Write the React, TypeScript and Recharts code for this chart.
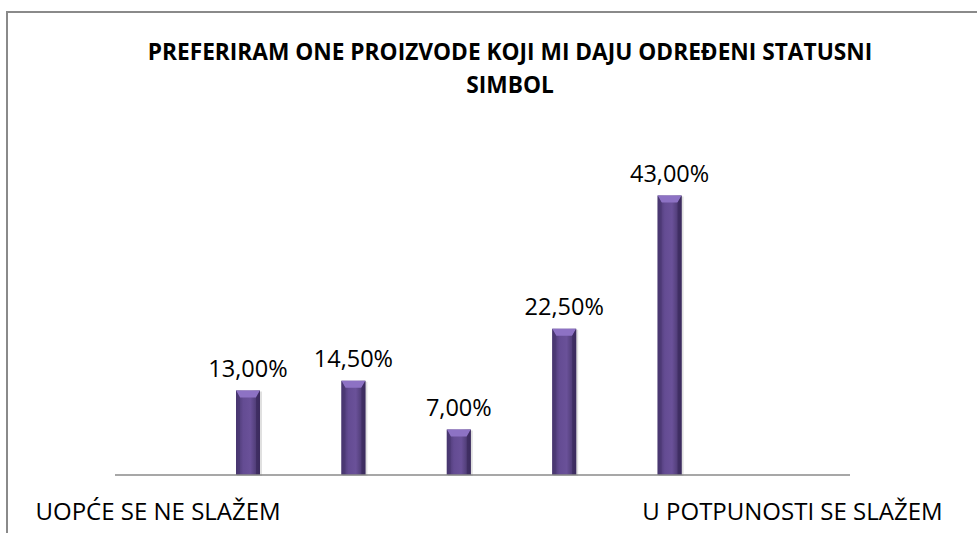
import React from "react";
import { BarChart, Bar, XAxis, YAxis, LabelList } from "recharts";

const categories = [
  "UOPĆE SE NE SLAŽEM",
  "2",
  "3",
  "4",
  "U POTPUNOSTI SE SLAŽEM",
];
const values = [13.0, 14.5, 7.0, 22.5, 43.0];
const titleLines = [
  "PREFERIRAM ONE PROIZVODE KOJI MI DAJU ODREĐENI STATUSNI",
  "SIMBOL",
];

const data = categories.map((name, i) => ({ name, value: values[i] }));

const FONT = "'Open Sans', sans-serif";

const fmt = (v: number) => v.toFixed(2).replace(".", ",") + "%";

function PurpleBar(props: any) {
  const { x, y, width, height } = props;
  if (!height || height <= 0) return null;
  const bevel = Math.min(7, height / 2);
  return (
    <g>
      <rect x={x + 1} y={y + 1} width={width + 1} height={height} fill="#000" opacity={0.12} />
      <rect x={x} y={y} width={width} height={height} fill="url(#barGrad)" />
      <polygon
        points={`${x},${y} ${x + width},${y} ${x + width - 4},${y + bevel} ${x + 4},${y + bevel}`}
        fill="#8d72c4"
      />
      <polygon
        points={`${x},${y} ${x + 4},${y + bevel} ${x + 4},${y + height} ${x},${y + height}`}
        fill="#4a3772"
        opacity={0.6}
      />
      <polygon
        points={`${x + width},${y} ${x + width - 4},${y + bevel} ${x + width - 4},${y + height} ${x + width},${y + height}`}
        fill="#3a2a5c"
        opacity={0.7}
      />
    </g>
  );
}

function CatTick(props: any) {
  const { x, y, payload, index } = props;
  if (index !== 0 && index !== categories.length - 1) return null;
  const first = index === 0;
  return (
    <text
      x={first ? x + 33 : x - 27}
      y={y + 37}
      textAnchor={first ? "end" : "start"}
      fontFamily={FONT}
      fontSize={24}
      fill="#000"
    >
      {payload.value}
    </text>
  );
}

export default function App() {
  return (
    <div style={{ position: "absolute", left: 0, top: 0, width: 977, height: 533, background: "#fff", overflow: "hidden" }}>
      <div
        style={{
          position: "absolute",
          left: 6,
          top: 11,
          width: 990,
          height: 540,
          borderLeft: "2px solid #8a8a8a",
          borderTop: "2px solid #8a8a8a",
        }}
      />
      <div
        style={{
          position: "absolute",
          left: 0,
          width: 1020,
          top: 35,
          textAlign: "center",
          fontFamily: FONT,
          fontWeight: 700,
          fontSize: 22.7,
          lineHeight: "33px",
          color: "#000",
        }}
      >
        {titleLines.map((t) => (
          <div key={t}>{t}</div>
        ))}
      </div>
      <div style={{ position: "absolute", left: 0, top: 0 }}>
        <BarChart width={977} height={533} data={data} margin={{ top: 150, right: 127, bottom: 0, left: 115 }}>
          <defs>
            <linearGradient id="barGrad" x1="0" y1="0" x2="1" y2="0">
              <stop offset="0%" stopColor="#45346b" />
              <stop offset="30%" stopColor="#644c93" />
              <stop offset="60%" stopColor="#6a5199" />
              <stop offset="100%" stopColor="#3e2f60" />
            </linearGradient>
          </defs>
          <XAxis
            dataKey="name"
            height={58}
            padding={{ left: 80, right: 128 }}
            axisLine={{ stroke: "#8a8a8a", strokeWidth: 1.5 }}
            tickLine={false}
            interval={0}
            tick={<CatTick />}
          />
          <YAxis hide domain={[0, 50]} width={0} />
          <Bar dataKey="value" barSize={24} shape={<PurpleBar />} isAnimationActive={false}>
            <LabelList
              dataKey="value"
              position="top"
              offset={14}
              formatter={(v: any) => fmt(Number(v))}
              style={{ fontFamily: FONT, fontSize: 23.5, fill: "#000" }}
            />
          </Bar>
        </BarChart>
      </div>
    </div>
  );
}
